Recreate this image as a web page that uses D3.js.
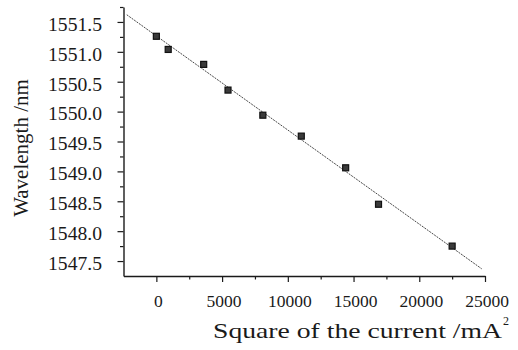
<!DOCTYPE html>
<html>
<head>
<meta charset="utf-8">
<script src="https://cdn.jsdelivr.net/npm/d3@7"></script>
<style>
  html, body { margin: 0; padding: 0; background: #fff; }
  svg { display: block; font-family: "Liberation Serif", "Times New Roman", serif; }
  svg text { font-family: "Liberation Serif", "Times New Roman", serif; }
</style>
</head>
<body>
<svg id="chart" width="518" height="350"></svg>
<script>
// values
const currentSq = [0, 900, 3600, 5450, 8100, 11025, 14400, 16900, 22500];
const wavelength = [1551.26, 1551.04, 1550.79, 1550.36, 1549.94, 1549.59, 1549.06, 1548.45, 1547.75];
// fitted line end points
const fitX = [-2250, 24750];
const fitY = [1551.62, 1547.37];

const xTicks = [0, 5000, 10000, 15000, 20000, 25000];
const xMinor = [2500, 7500, 12500, 17500, 22500];
const yTicks = [1547.5, 1548.0, 1548.5, 1549.0, 1549.5, 1550.0, 1550.5, 1551.0, 1551.5];
const yMinor = [1547.75, 1548.25, 1548.75, 1549.25, 1549.75, 1550.25, 1550.75, 1551.25, 1551.75];

const svg = d3.select("#chart");

const x = d3.scaleLinear().domain([-2500, 25000]).range([123.5, 485]);
const y = d3.scaleLinear().domain([1547.25, 1551.75]).range([276, 7]);

const ink = "#1a1a1a";

// minor ticks first
svg.append("g")
  .attr("transform", "translate(0,276)")
  .call(d3.axisBottom(x).tickValues(xMinor).tickSize(3.5).tickFormat(""))
  .call(g => g.select(".domain").remove())
  .call(g => g.selectAll("line").attr("stroke", ink).attr("stroke-width", 1.2));

svg.append("g")
  .attr("transform", "translate(123.5,0)")
  .call(d3.axisLeft(y).tickValues(yMinor).tickSize(3.5).tickFormat(""))
  .call(g => g.select(".domain").remove())
  .call(g => g.selectAll("line").attr("stroke", ink).attr("stroke-width", 1.2));

// x axis
svg.append("g")
  .attr("transform", "translate(0,276)")
  .call(d3.axisBottom(x).tickValues(xTicks).tickSize(6).tickSizeOuter(0).tickPadding(13).tickFormat(d3.format("d")))
  .call(g => g.select(".domain").attr("stroke", ink).attr("stroke-width", 1.4))
  .call(g => g.selectAll("line").attr("stroke", ink).attr("stroke-width", 1.2))
  .call(g => g.selectAll("text")
    .attr("fill", ink)
    .attr("font-size", 17.5)
    .attr("dx", 1.5));

// y axis
svg.append("g")
  .attr("transform", "translate(123.5,0)")
  .call(d3.axisLeft(y).tickValues(yTicks).tickSize(6).tickSizeOuter(0).tickPadding(15.5).tickFormat(d3.format(".1f")))
  .call(g => g.select(".domain").attr("stroke", ink).attr("stroke-width", 1.4))
  .call(g => g.selectAll("line").attr("stroke", ink).attr("stroke-width", 1.2))
  .call(g => g.selectAll("text")
    .attr("fill", ink)
    .attr("font-size", 18)
    .attr("dy", "0.46em")
    .attr("textLength", 54)
    .attr("lengthAdjust", "spacingAndGlyphs"));

// fitted line
svg.append("line")
  .attr("x1", x(fitX[0])).attr("y1", y(fitY[0]))
  .attr("x2", x(fitX[1])).attr("y2", y(fitY[1]))
  .attr("stroke", "#333")
  .attr("stroke-width", 0.9)
  .attr("stroke-dasharray", "2,1");

// data points
const pts = currentSq.map((d, i) => ({ cx: d, wl: wavelength[i] }));
svg.append("g")
  .selectAll("rect")
  .data(pts)
  .join("rect")
  .attr("x", d => x(d.cx) - 3)
  .attr("y", d => y(d.wl) - 3)
  .attr("width", 6)
  .attr("height", 6)
  .attr("fill", "#3a3a3a")
  .attr("stroke", "#111")
  .attr("stroke-width", 1.2);

// axis titles
svg.append("text")
  .attr("x", 213)
  .attr("y", 338)
  .attr("font-size", 21)
  .attr("fill", ink)
  .attr("textLength", 289)
  .attr("lengthAdjust", "spacingAndGlyphs")
  .text("Square of the current /mA");

svg.append("text")
  .attr("x", 503)
  .attr("y", 325)
  .attr("font-size", 12)
  .attr("fill", ink)
  .text("2");

svg.append("text")
  .attr("transform", "translate(28,148) rotate(-90)")
  .attr("text-anchor", "middle")
  .attr("font-size", 21)
  .attr("fill", ink)
  .text("Wavelength /nm");
</script>
</body>
</html>
